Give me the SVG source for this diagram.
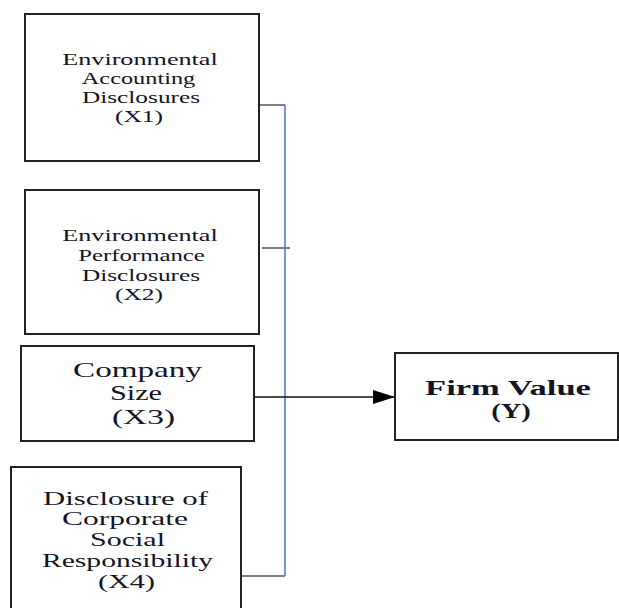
<svg xmlns="http://www.w3.org/2000/svg" width="619" height="608" viewBox="0 0 619 608">
<style>
.box{fill:#fff;stroke:#222;stroke-width:2}
.t{font-family:"Liberation Serif","Times New Roman",serif;fill:#141428;text-anchor:middle}
.s{font-size:17px}
.m{font-size:21px}
.n{font-size:19px}
.b{font-size:22px;font-weight:bold}
.gray{stroke:#555;stroke-width:1.5;fill:none}
.blue{stroke:#4a72c8;stroke-width:1.5;fill:none}
.blk{stroke:#111;stroke-width:1.5;fill:none}
</style>
<defs>
<marker id="ah" markerUnits="userSpaceOnUse" markerWidth="22" markerHeight="14" refX="22" refY="7" orient="auto">
<path d="M0,0 L22,7 L0,14 Z" fill="#000"/>
</marker>
</defs>
<rect width="619" height="608" fill="#fff"/>
<g id="connectors">
<path class="gray" d="M259,105 H285"/>
<path class="gray" d="M262,248 H290"/>
<path class="gray" d="M242,576 H285"/>
<path class="blue" d="M285,105 V576"/>
<path class="blk" d="M254,397 H395" marker-end="url(#ah)"/>
</g>
<g id="x1">
<rect class="box" x="25" y="14" width="234" height="147"/>
<text class="t s" transform="translate(140,65) scale(1.54,1)">Environmental</text>
<text class="t s" transform="translate(138.5,84) scale(1.43,1)">Accounting</text>
<text class="t s" transform="translate(141,103) scale(1.49,1)">Disclosures</text>
<text class="t s" transform="translate(139,122) scale(1.5,1)">(X1)</text>
</g>
<g id="x2">
<rect class="box" x="25" y="190" width="234" height="144"/>
<text class="t s" transform="translate(140,241) scale(1.54,1)">Environmental</text>
<text class="t s" transform="translate(141.5,261) scale(1.46,1)">Performance</text>
<text class="t s" transform="translate(141,281) scale(1.49,1)">Disclosures</text>
<text class="t s" transform="translate(139,300) scale(1.5,1)">(X2)</text>
</g>
<g id="x3">
<rect class="box" x="21" y="346" width="233" height="95"/>
<text class="t m" transform="translate(137.5,377) scale(1.58,1)">Company</text>
<text class="t m" transform="translate(136,400) scale(1.44,1)">Size</text>
<text class="t m" transform="translate(143.5,424) scale(1.59,1)">(X3)</text>
</g>
<g id="x4">
<rect class="box" x="11" y="467" width="230" height="160"/>
<text class="t n" transform="translate(125.5,505) scale(1.62,1)">Disclosure of</text>
<text class="t n" transform="translate(125,525) scale(1.66,1)">Corporate</text>
<text class="t n" transform="translate(127.5,546) scale(1.58,1)">Social</text>
<text class="t n" transform="translate(127.5,567) scale(1.56,1)">Responsibility</text>
<text class="t n" transform="translate(126.5,588) scale(1.59,1)">(X4)</text>
</g>
<g id="y">
<rect class="box" x="395" y="353" width="223" height="87"/>
<text class="t b" transform="translate(508,395) scale(1.57,1)">Firm Value</text>
<text class="t b" transform="translate(511,418) scale(1.3,1)">(Y)</text>
</g>
</svg>
